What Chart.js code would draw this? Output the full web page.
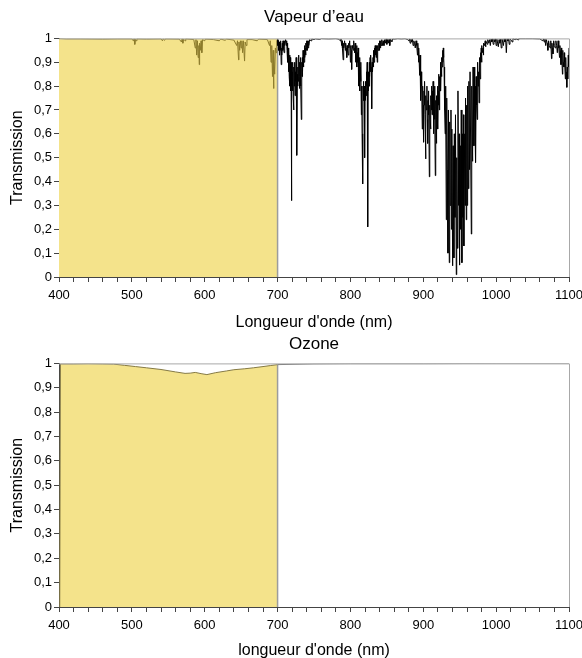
<!DOCTYPE html>
<html lang="fr">
<head>
<meta charset="utf-8">
<title>Transmission atmosphérique</title>
<script src="https://cdn.jsdelivr.net/npm/chart.js@4.4.1/dist/chart.umd.min.js"></script>
<style>
  html, body { margin:0; padding:0; background:#fff; overflow:hidden; }
  #wrap { position:relative; width:582px; height:658px; }
  canvas { position:absolute; left:0; }
  #vapeurChart { top:0; }
  #ozoneChart { top:333px; }
</style>
</head>
<body>
<div id="wrap">
  <canvas id="vapeurChart" width="582" height="334"></canvas>
  <canvas id="ozoneChart" width="582" height="330"></canvas>
</div>
<script>
// Water vapour transmission spectrum (nm / transmission)
const vapeurNm = [
  400, 410, 430, 460, 480, 500, 502, 503, 504, 505,
  506, 507, 520, 540, 542, 543, 545, 546, 565, 568,
  569, 570, 571, 573, 574, 585, 587, 588, 589, 590,
  591, 592, 592.5, 593, 594, 595, 596, 597, 600, 601,
  612, 620, 622, 628, 630, 640, 644, 645, 646.5, 647,
  648, 649, 650, 651, 652, 653, 654.7, 655.5, 657, 658,
  665, 672, 674, 686, 689, 690, 691, 692, 693, 694,
  694.5, 695, 696, 697, 698, 699, 700, 700.5, 701, 701.5,
  702, 702.5, 703, 703.5, 704, 704.5, 705, 705.5, 706, 706.5,
  707, 707.5, 708, 709, 709.5, 710, 711, 712, 712.5, 713,
  713.5, 714, 714.5, 715, 715.5, 716, 716.5, 717, 717.5, 718,
  718.5, 718.9, 719.3, 719.7, 720, 720.5, 721, 721.5, 722, 722.5,
  723, 723.5, 724, 724.5, 725, 725.5, 726, 726.6, 727.2, 727.6,
  728, 728.5, 729, 729.5, 730, 730.5, 731, 731.5, 732, 732.6,
  733.2, 733.6, 734, 734.5, 735, 735.5, 736, 736.5, 737, 737.5,
  738, 738.5, 739, 739.5, 740, 740.5, 741, 742, 742.5, 743,
  744, 746, 747, 750, 752, 758, 760, 770, 780, 784,
  786, 787, 788, 788.5, 789, 790, 790.5, 791, 792, 793,
  793.5, 794, 795, 795.5, 796, 797, 797.5, 798, 799, 800,
  800.5, 801, 801.7, 802.3, 803, 804, 804.5, 805, 806, 806.5,
  807, 807.5, 808, 808.5, 809, 809.5, 810, 810.5, 811, 811.5,
  812, 812.5, 813, 813.5, 814, 814.5, 815, 815.5, 816, 816.8,
  817.3, 817.7, 818, 818.5, 819, 819.5, 820, 820.5, 821, 821.5,
  822, 822.5, 823, 823.7, 824.2, 824.6, 825, 825.5, 826, 826.5,
  827, 827.5, 828, 828.5, 829.2, 829.8, 830.3, 831, 831.5, 832,
  832.5, 833, 833.5, 834, 834.5, 835, 835.5, 836, 836.8, 837.4,
  838, 839, 839.5, 840, 841, 841.5, 842, 843, 844, 845,
  846, 847, 848, 849, 850, 851, 852, 853, 854, 855,
  857, 858, 860, 865, 870, 875, 878, 880, 881, 882,
  883, 884, 885, 886, 887, 888, 889, 890, 891, 892,
  892.5, 893, 893.5, 894, 895, 895.5, 896, 896.7, 897.3, 897.8,
  898.6, 899.2, 899.7, 900.4, 901, 901.5, 902, 902.5, 903.1, 903.7,
  904.2, 905, 905.5, 906, 906.5, 907, 907.5, 908.3, 908.9, 909.4,
  910, 910.5, 911, 911.5, 912, 912.5, 913, 913.5, 914, 914.5,
  915, 915.5, 916, 916.5, 917.1, 917.6, 918, 918.5, 919, 919.5,
  920, 920.5, 921, 921.5, 922, 922.5, 923, 923.5, 924, 924.5,
  925, 925.5, 926, 926.5, 927, 927.5, 928, 928.5, 929, 929.5,
  930, 930.5, 931, 931.6, 932.2, 933, 933.9, 934.5, 935.7, 936.3,
  937, 938, 938.6, 939.2, 940.3, 940.9, 942, 942.6, 943.5, 944.2,
  945.3, 945.9, 947, 947.6, 948.5, 949.1, 949.8, 950.4, 951.5, 952.1,
  953, 953.6, 954.5, 955.1, 955.7, 956.3, 957.3, 958, 959, 959.6,
  960.3, 960.9, 962, 962.6, 963.5, 964.2, 965.9, 966.5, 967.7, 968.3,
  969.5, 970.1, 970.6, 971, 971.5, 972, 972.6, 973.2, 974, 974.6,
  975.2, 976, 976.5, 977.1, 977.6, 978, 978.5, 979, 979.5, 980,
  980.5, 981, 982, 982.5, 983, 984, 985, 985.5, 986, 987,
  988, 988.5, 990, 991, 992, 993, 994, 995, 996, 997,
  998, 999, 1000, 1001, 1002, 1003, 1004, 1005, 1006, 1007,
  1008, 1009, 1010, 1011, 1012, 1013, 1014, 1015, 1016, 1017,
  1018, 1019, 1021, 1022, 1023, 1026, 1027, 1030, 1031, 1040,
  1050, 1060, 1064, 1065, 1066, 1067, 1068, 1069, 1070, 1071,
  1072, 1073, 1074, 1075, 1076, 1076.6, 1077.2, 1078, 1079, 1080,
  1081, 1082, 1083, 1084, 1085, 1086, 1087, 1087.5, 1088, 1089,
  1089.5, 1090, 1091, 1091.5, 1092, 1093, 1093.5, 1094, 1095, 1095.5,
  1096, 1097, 1097.6, 1098, 1098.5, 1099, 1099.5, 1100
];
const vapeurT = [
  1, 0.998, 0.998, 0.997, 0.998, 0.998, 0.99, 0.998, 0.975, 0.996,
  0.99, 0.998, 0.997, 0.998, 0.99, 0.998, 0.992, 0.998, 0.997, 0.985,
  0.998, 0.98, 0.997, 0.99, 0.998, 0.995, 0.96, 0.995, 0.93, 0.99,
  0.92, 0.97, 0.89, 0.98, 0.95, 0.99, 0.94, 0.995, 0.99, 0.997,
  0.995, 0.99, 0.997, 0.992, 0.997, 0.993, 0.97, 0.99, 0.91, 0.985,
  0.95, 0.99, 0.96, 0.99, 0.94, 0.99, 0.905, 0.985, 0.97, 0.995,
  0.995, 0.99, 0.997, 0.995, 0.97, 0.99, 0.9, 0.97, 0.84, 0.95,
  0.79, 0.93, 0.85, 0.96, 0.94, 0.99, 0.995, 0.97, 0.99, 0.95,
  0.985, 0.96, 0.93, 0.98, 0.95, 0.99, 0.89, 0.96, 0.93, 0.98,
  0.95, 0.99, 0.96, 0.94, 0.99, 0.97, 0.995, 0.97, 0.99, 0.95,
  0.98, 0.9, 0.96, 0.86, 0.95, 0.84, 0.93, 0.8, 0.92, 0.78,
  0.88, 0.32, 0.9, 0.8, 0.86, 0.78, 0.9, 0.75, 0.70, 0.88,
  0.8, 0.9, 0.76, 0.86, 0.82, 0.92, 0.80, 0.51, 0.85, 0.8,
  0.88, 0.82, 0.93, 0.84, 0.79, 0.9, 0.84, 0.92, 0.8, 0.66,
  0.9, 0.84, 0.92, 0.86, 0.95, 0.88, 0.94, 0.9, 0.97, 0.92,
  0.96, 0.93, 0.98, 0.95, 0.99, 0.95, 0.99, 0.96, 0.99, 0.97,
  0.995, 0.99, 0.998, 0.995, 0.998, 0.996, 0.999, 0.998, 0.999, 0.997,
  0.99, 0.998, 0.97, 0.99, 0.96, 0.91, 0.98, 0.96, 0.99, 0.95,
  0.98, 0.96, 0.92, 0.97, 0.95, 0.93, 0.98, 0.96, 0.99, 0.9,
  0.97, 0.95, 0.87, 0.97, 0.96, 0.95, 0.99, 0.96, 0.94, 0.98,
  0.9, 0.96, 0.93, 0.97, 0.88, 0.94, 0.9, 0.96, 0.8, 0.9,
  0.86, 0.92, 0.78, 0.88, 0.82, 0.9, 0.68, 0.8, 0.6, 0.39,
  0.8, 0.74, 0.82, 0.74, 0.8, 0.50, 0.78, 0.74, 0.82, 0.76,
  0.86, 0.8, 0.9, 0.21, 0.84, 0.78, 0.86, 0.8, 0.9, 0.84,
  0.92, 0.86, 0.93, 0.88, 0.705, 0.9, 0.86, 0.92, 0.88, 0.95,
  0.9, 0.96, 0.92, 0.97, 0.93, 0.96, 0.92, 0.97, 0.90, 0.97,
  0.95, 0.98, 0.95, 0.99, 0.96, 0.99, 0.97, 0.995, 0.97, 0.99,
  0.97, 0.995, 0.98, 0.998, 0.975, 0.995, 0.98, 0.997, 0.97, 0.998,
  0.985, 0.998, 0.997, 0.999, 0.998, 0.999, 0.996, 0.99, 0.998, 0.98,
  0.997, 0.985, 0.998, 0.97, 0.99, 0.98, 0.96, 0.99, 0.97, 0.93,
  0.98, 0.95, 0.9, 0.96, 0.845, 0.93, 0.86, 0.74, 0.86, 0.8,
  0.62, 0.8, 0.72, 0.565, 0.78, 0.72, 0.82, 0.68, 0.495, 0.76,
  0.7, 0.8, 0.66, 0.56, 0.74, 0.68, 0.78, 0.42, 0.72, 0.66,
  0.62, 0.76, 0.7, 0.8, 0.68, 0.78, 0.7, 0.82, 0.6, 0.76,
  0.7, 0.8, 0.66, 0.425, 0.74, 0.66, 0.56, 0.76, 0.7, 0.8,
  0.62, 0.78, 0.72, 0.85, 0.7, 0.84, 0.78, 0.9, 0.78, 0.88,
  0.84, 0.92, 0.88, 0.95, 0.9, 0.96, 0.92, 0.88, 0.82, 0.7,
  0.6, 0.8, 0.7, 0.24, 0.75, 0.45, 0.10, 0.7, 0.06, 0.65,
  0.3, 0.7, 0.2, 0.62, 0.047, 0.55, 0.08, 0.6, 0.25, 0.68,
  0.01, 0.5, 0.12, 0.78, 0.3, 0.6, 0.05, 0.55, 0.2, 0.7,
  0.06, 0.6, 0.25, 0.68, 0.13, 0.6, 0.3, 0.75, 0.24, 0.72,
  0.3, 0.8, 0.37, 0.82, 0.45, 0.86, 0.18, 0.8, 0.485, 0.88,
  0.55, 0.88, 0.7, 0.62, 0.8, 0.48, 0.84, 0.72, 0.66, 0.9,
  0.8, 0.86, 0.73, 0.92, 0.86, 0.83, 0.94, 0.9, 0.96, 0.90,
  0.97, 0.94, 0.96, 0.93, 0.98, 0.97, 0.99, 0.965, 0.99, 0.98,
  0.975, 0.995, 0.98, 0.995, 0.97, 0.997, 0.985, 0.998, 0.975, 0.997,
  0.985, 0.998, 0.97, 0.997, 0.98, 0.965, 0.995, 0.98, 0.997, 0.96,
  0.997, 0.985, 0.97, 0.998, 0.985, 0.998, 0.94, 0.998, 0.99, 0.998,
  0.975, 0.998, 0.992, 0.985, 0.999, 0.995, 0.999, 0.994, 0.999, 0.999,
  0.999, 0.998, 0.99, 0.998, 0.985, 0.997, 0.97, 0.995, 0.98, 0.95,
  0.99, 0.97, 0.96, 0.99, 0.915, 0.98, 0.96, 0.935, 0.99, 0.97,
  0.96, 0.99, 0.97, 0.94, 0.99, 0.96, 0.92, 0.97, 0.95, 0.89,
  0.96, 0.93, 0.85, 0.95, 0.9, 0.88, 0.94, 0.9, 0.83, 0.92,
  0.86, 0.795, 0.88, 0.84, 0.83, 0.93, 0.88, 0.96
];

// Ozone transmission
const ozoneNm = [401, 402, 420, 440, 460, 475, 490, 505, 520, 540,
                 560, 573, 580, 587, 595, 603, 615, 630, 640, 655,
                 667, 680, 690, 700, 750, 800, 900, 1000, 1100];
const ozoneT  = [0, 0.998, 0.998, 0.999, 0.998, 0.997, 0.992, 0.987, 0.982, 0.975,
                 0.965, 0.959, 0.96, 0.963, 0.958, 0.954, 0.962, 0.969, 0.974, 0.978,
                 0.982, 0.987, 0.991, 0.995, 0.998, 0.999, 0.999, 1, 1];

// visible range (yellow band) and axis range
const visibleBand = [400, 700];
const xRange = [400, 1100];
const yRange = [0, 1];

const FONT = "'Liberation Sans', Arial, Helvetica, sans-serif";
const YELLOW = '#f4e38b';
const OLIVE = '#8c7b2c';

function pts(xs, ys){ return xs.map((x, i) => ({x, y: ys[i]})); }
function fmtY(v){ return String(Math.round(v * 10) / 10).replace('.', ','); }

// gray frame on the top and right edges of the plot
const framePlugin = {
  id: 'frame',
  afterDatasetsDraw(chart){
    const {ctx, chartArea: a} = chart;
    ctx.save();
    ctx.strokeStyle = '#a8a8a8';
    ctx.lineWidth = 1;
    ctx.beginPath();
    ctx.moveTo(a.left, a.top + 0.5);
    ctx.lineTo(Math.round(a.right) + 0.5, a.top + 0.5);
    ctx.lineTo(Math.round(a.right) + 0.5, a.bottom);
    ctx.stroke();
    ctx.restore();
  }
};

function makeChart(id, cfg){
  return new Chart(document.getElementById(id), {
    type: 'line',
    data: { datasets: cfg.datasets },
    options: {
      responsive: false,
      animation: false,
      events: [],
      layout: { padding: { left: 0, right: 13, top: 0, bottom: 0 } },
      elements: { point: { radius: 0 }, line: { tension: 0 } },
      plugins: {
        legend: { display: false },
        tooltip: { enabled: false },
        title: {
          display: true, text: cfg.title, color: '#000', fullSize: false,
          font: { family: FONT, size: 17, weight: 'normal' },
          padding: cfg.titlePad
        }
      },
      scales: {
        x: {
          type: 'linear', min: xRange[0], max: xRange[1], z: 1,
          afterFit: s => { s.height = cfg.xHeight; s.paddingRight = 0; },
          grid: { drawOnChartArea: false, tickLength: 5, tickColor: '#444' },
          border: { color: '#444', width: 1 },
          ticks: {
            stepSize: 20, maxTicksLimit: 100, autoSkip: false, maxRotation: 0, padding: 6,
            color: '#000', font: { family: FONT, size: 13 },
            callback: v => (v % 100 === 0 ? String(v) : '')
          },
          title: {
            display: true, text: cfg.xTitle, color: '#000',
            font: { family: FONT, size: 16 }, padding: { top: 0, bottom: cfg.xTitleBottom }
          }
        },
        y: {
          min: yRange[0], max: yRange[1], z: 1,
          afterFit: s => { s.width = 59; },
          grid: { drawOnChartArea: false, tickLength: 5, tickColor: '#444' },
          border: { color: '#444', width: 1 },
          ticks: {
            stepSize: 0.1, padding: 2, color: '#000',
            font: { family: FONT, size: 13 },
            callback: fmtY
          },
          title: {
            display: true, text: 'Transmission', color: '#000',
            font: { family: FONT, size: 16 }, padding: { top: 8, bottom: 0 }
          }
        }
      }
    },
    plugins: [framePlugin]
  });
}

const lineColor = (inside, outside) => ctx => (ctx.p0.parsed.x < visibleBand[1] ? inside : outside);

// Vapeur d'eau
makeChart('vapeurChart', {
  title: 'Vapeur d’eau',
  titlePad: { top: 7, bottom: 11 },
  xTitle: "Longueur d'onde (nm)",
  xHeight: 57,
  xTitleBottom: 2,
  datasets: [
    { data: pts(vapeurNm, vapeurT), borderWidth: 1, borderColor: '#000',
      segment: { borderColor: lineColor(OLIVE, '#000') }, fill: false },
    { data: pts([visibleBand[1], visibleBand[1]], yRange), borderColor: '#9c9c9c', borderWidth: 1.5, fill: false },
    { data: pts(visibleBand, [yRange[1], yRange[1]]), borderWidth: 0, borderColor: 'rgba(0,0,0,0)',
      backgroundColor: YELLOW, fill: 'origin' }
  ]
});

// Ozone
const ozonePts = pts(ozoneNm, ozoneT);
makeChart('ozoneChart', {
  title: 'Ozone',
  titlePad: { top: 1, bottom: 9 },
  xTitle: "longueur d'onde (nm)",
  xHeight: 56,
  xTitleBottom: 3,
  datasets: [
    { data: ozonePts, borderWidth: 1, borderColor: '#707070',
      segment: { borderColor: lineColor('#857a45', '#707070') }, fill: false },
    { data: pts([visibleBand[1], visibleBand[1]], [yRange[0], ozoneT[ozoneNm.indexOf(visibleBand[1])]]),
      borderColor: '#9c9c9c', borderWidth: 1.5, fill: false },
    { data: ozonePts.filter(p => p.x <= visibleBand[1]), borderWidth: 0, borderColor: 'rgba(0,0,0,0)',
      backgroundColor: YELLOW, fill: 'origin' }
  ]
});
</script>
</body>
</html>
